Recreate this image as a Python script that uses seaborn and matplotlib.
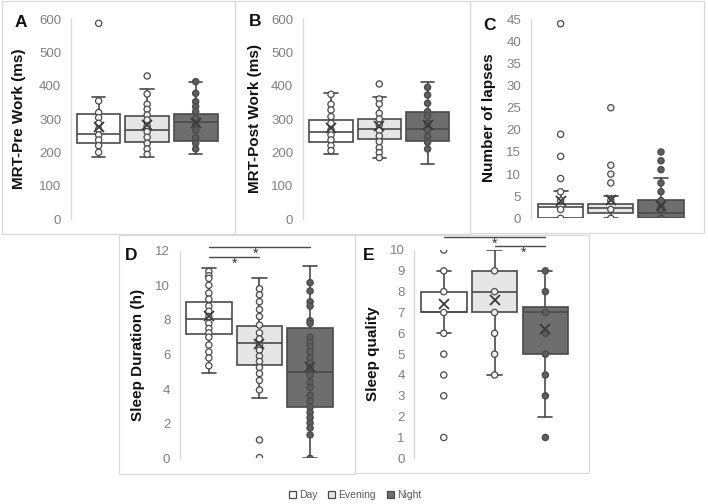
import matplotlib
matplotlib.use("Agg")
import matplotlib.pyplot as plt
from matplotlib.patches import Patch, Rectangle
import seaborn as sns
import pandas as pd

W, H = 708, 504

groups = ["Day", "Evening", "Night"]

# A: MRT pre work (ms)
pre_day = [588, 355, 320, 305, 288, 270, 253, 238, 221, 201]
pre_eve = [430, 376, 345, 330, 313, 298, 280, 263, 246, 228, 211, 195]
pre_night = [413, 378, 353, 338, 323, 303, 286, 268, 245, 228, 211]
pre_q1 = [228, 233, 236]
pre_med = [255, 268, 293]
pre_q3 = [315, 310, 315]
pre_lo = [186, 186, 195]
pre_hi = [366, 390, 413]
pre_mean = [278, 283, 288]

# B: MRT post work (ms)
post_day = [375, 345, 328, 308, 288, 268, 253, 238, 221, 206]
post_eve = [406, 361, 346, 318, 301, 283, 266, 250, 233, 215, 200, 185]
post_night = [396, 373, 348, 323, 310, 288, 268, 248, 231, 211]
post_q1 = [233, 240, 236]
post_med = [261, 270, 271]
post_q3 = [298, 301, 321]
post_lo = [196, 185, 166]
post_hi = [380, 368, 411]
post_mean = [275, 280, 283]

# C: number of lapses
lapse_day = [44, 19, 14, 9, 6, 4, 2, 0]
lapse_eve = [25, 12, 10, 8, 4, 2, 0]
lapse_night = [15, 13, 11, 8, 6, 4, 2.5, 2, 0]
lapse_q1 = [0, 1.1, 0]
lapse_med = [2.5, 2.3, 1.3]
lapse_q3 = [3.2, 3.2, 4.1]
lapse_lo = [0, 0, 0]
lapse_hi = [6.2, 5.1, 9.2]
lapse_mean = [4.0, 4.2, 2.8]

# D: sleep duration (h)
sleep_day = [10.8, 10.55, 10.4, 10.0, 9.55, 9.2, 8.8, 8.5, 8.2, 7.8, 7.5,
             7.25, 7.0, 6.55, 6.15, 5.8, 5.35]
sleep_eve = [9.8, 9.45, 9.05, 8.6, 8.2, 7.7, 7.25, 6.9, 6.55, 6.25, 5.9, 5.6,
             5.25, 4.9, 4.5, 3.95, 1.06, 0.04]
sleep_night = [10.15, 9.67, 9.05, 8.8, 7.95, 7.8, 7.0, 6.7, 6.45, 6.15, 5.8,
               5.5, 5.25, 4.8, 4.4, 4.1, 3.65, 3.3, 2.95, 2.65, 2.35, 2.05,
               1.75, 1.35, 0]
sleep_q1 = [7.18, 5.4, 2.95]
sleep_med = [8.03, 6.65, 5.0]
sleep_q3 = [9.05, 7.67, 7.55]
sleep_lo = [4.95, 3.47, 0]
sleep_hi = [10.98, 10.45, 11.1]
sleep_mean = [8.2, 6.6, 5.25]

# E: sleep quality
quality_day = [10, 9, 8, 7, 6, 5, 4, 3, 1]
quality_eve = [9, 8, 7, 6, 5, 4]
quality_night = [9, 8, 7, 6, 5, 4, 3, 1]
quality_q1 = [7, 7, 5]
quality_med = [7, 8, 7]
quality_q3 = [8, 9, 7.25]
quality_lo = [6, 4, 2]
quality_hi = [9, 10, 9]
quality_mean = [7.4, 7.6, 6.2]

EDGE = "#4a4a4a"
TICK = "#808080"
FRAME = "#d9d9d9"
box_fill = ["#ffffff", "#e6e6e6", "#6e6e6e"]
point_fill = {"Day": "#ffffff", "Evening": "#f0f0f0", "Night": "#5e5e5e"}

sns.set_style("white")
plt.rcParams["font.family"] = ["Liberation Sans", "DejaVu Sans"]


def pxRect(x0, y0, x1, y1):
    return [x0 / W, 1 - y1 / H, (x1 - x0) / W, (y1 - y0) / H]


def drawPanel(ax, points, q1, med, q3, lo, hi, mean, ymax, ystep, xoff):
    df = pd.DataFrame({
        "group": [g for g, vals in zip(groups, points) for _ in vals],
        "value": [v for vals in points for v in vals],
    })
    sns.stripplot(data=df, x="group", y="value", hue="group", order=groups,
                  palette=point_fill, jitter=False, size=4.5, linewidth=0.9,
                  edgecolor=EDGE, legend=False, ax=ax, zorder=3)
    stats = [dict(q1=q1[i], med=med[i], q3=q3[i], whislo=lo[i], whishi=hi[i],
                  mean=mean[i], fliers=[]) for i in range(3)]
    bp = ax.bxp(stats, positions=[0, 1, 2], widths=0.9, patch_artist=True,
                showmeans=True, manage_ticks=False, capwidths=0.28, zorder=1,
                boxprops=dict(edgecolor=EDGE, linewidth=1.2),
                medianprops=dict(color=EDGE, linewidth=1.2),
                whiskerprops=dict(color=EDGE, linewidth=1.2),
                capprops=dict(color=EDGE, linewidth=1.2),
                meanprops=dict(marker="x", markeredgecolor="#3a3a3a",
                               markersize=7, markeredgewidth=1.3, zorder=5))
    for patch, c in zip(bp["boxes"], box_fill):
        patch.set_facecolor(c)
    ax.set_xlim(-xoff, 3.1 - xoff)
    ax.set_ylim(0, ymax)
    ax.set_yticks(range(0, ymax + 1, ystep))
    ax.set_xticks([])
    ax.set_xlabel("")
    ax.tick_params(axis="y", length=0, pad=7, labelsize=9.5, labelcolor=TICK)
    for side in ["top", "right", "bottom"]:
        ax.spines[side].set_visible(False)
    ax.spines["left"].set_color(FRAME)
    ax.spines["left"].set_linewidth(1)
    ax.set_facecolor("none")


fig = plt.figure(figsize=(W / 100, H / 100), dpi=100)

# light panel frames
for x0, y0, x1, y1 in [(2, 1, 235, 234), (235, 1, 470, 234), (470, 1, 704, 233),
                       (119, 235, 355, 474), (355, 235, 589, 473)]:
    fig.patches.append(Rectangle((x0 / W, 1 - y1 / H), (x1 - x0) / W, (y1 - y0) / H,
                                 transform=fig.transFigure, fill=False,
                                 edgecolor=FRAME, linewidth=0.9))

panels = [
    ("A", "MRT-Pre Work (ms)", (71, 19.3, 221.4, 219.3), 0.57,
     [pre_day, pre_eve, pre_night], pre_q1, pre_med, pre_q3, pre_lo, pre_hi, pre_mean,
     600, 100, (20.5, 27), (19.5, 119)),
    ("B", "MRT-Post Work (ms)", (303, 19.3, 452.7, 219.3), 0.58,
     [post_day, post_eve, post_night], post_q1, post_med, post_q3, post_lo, post_hi,
     post_mean, 600, 100, (255.5, 26), (254.5, 118.3)),
    ("C", "Number of lapses", (531, 19.3, 686.6, 218.3), 0.59,
     [lapse_day, lapse_eve, lapse_night], lapse_q1, lapse_med, lapse_q3, lapse_lo,
     lapse_hi, lapse_mean, 45, 5, (489, 30), (488.8, 117.5)),
    ("D", "Sleep Duration (h)", (180, 250.7, 336.9, 458.3), 0.57,
     [sleep_day, sleep_eve, sleep_night], sleep_q1, sleep_med, sleep_q3, sleep_lo,
     sleep_hi, sleep_mean, 12, 2, (131, 260), (138.3, 355)),
    ("E", "Sleep quality", (414.3, 250, 571.8, 458.3), 0.58,
     [quality_day, quality_eve, quality_night], quality_q1, quality_med, quality_q3,
     quality_lo, quality_hi, quality_mean, 10, 1, (368.3, 260), (372.8, 354)),
]

axes = {}
for (letter, label, rect, xoff, pts, q1, med, q3, lo, hi, mean, ymax, ystep,
     letterPos, labelPos) in panels:
    ax = fig.add_axes(pxRect(*rect))
    drawPanel(ax, pts, q1, med, q3, lo, hi, mean, ymax, ystep, xoff)
    ax.set_ylabel(label, fontsize=11, fontweight="bold", color="#111111", va="center")
    ax.yaxis.set_label_coords(labelPos[0] / W, 1 - labelPos[1] / H,
                              transform=fig.transFigure)
    fig.text(letterPos[0] / W, 1 - letterPos[1] / H, letter, ha="center",
             va="baseline", fontsize=12.5, fontweight="bold", color="#111111")
    axes[letter] = ax

# significance brackets
sig = [("D", 0, 1, 11.65, 0.5), ("D", 0, 2, 12.23, 0.93),
       ("E", 0, 2, 10.64, 1.0), ("E", 1, 2, 10.21, 1.56)]
for letter, xa, xb, yv, xs in sig:
    ax = axes[letter]
    ax.plot([xa, xb], [yv, yv], color=EDGE, linewidth=1, clip_on=False)
    ax.text(xs, yv, "*", ha="center", va="top", fontsize=10, color="#333333",
            clip_on=False)

handles = [Patch(facecolor=c, edgecolor=EDGE, linewidth=0.9, label=g)
           for g, c in zip(groups, box_fill)]
fig.legend(handles=handles, loc="center", bbox_to_anchor=(355 / W, 1 - 495 / H),
           ncol=3, frameon=False, fontsize=7.5, handlelength=0.7, handleheight=0.7,
           handletextpad=0.3, columnspacing=1.0, labelcolor="#595959")

fig.savefig("out.png", dpi=100, facecolor="white")
